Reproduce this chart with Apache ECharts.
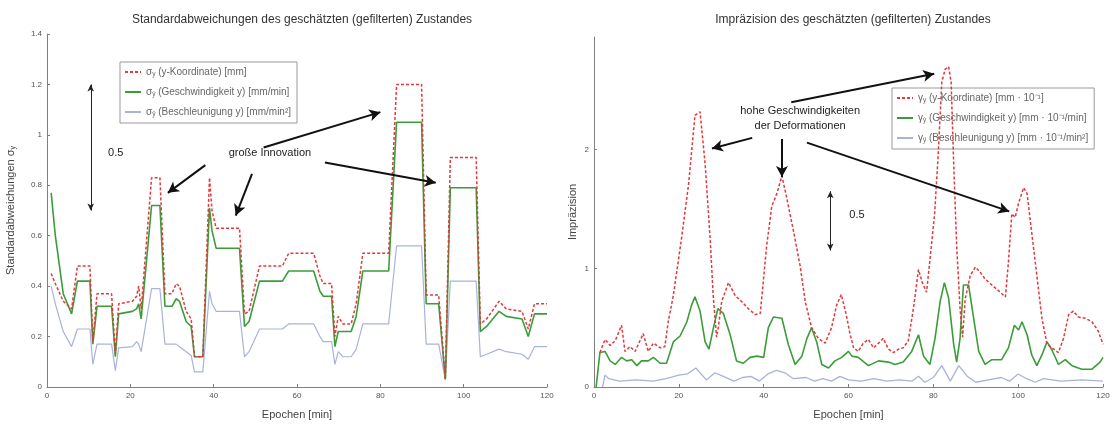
<!DOCTYPE html>
<html>
<head>
<meta charset="utf-8">
<script src="https://cdn.jsdelivr.net/npm/echarts@6/dist/echarts.min.js"></script>
<style>
html,body{margin:0;padding:0;background:#fff;}
#c{width:1114px;height:425px;}
</style>
</head>
<body>
<div id="c"></div>
<script>
// ---------- DATA ----------
// Left chart: standard deviations (epoch [min], value)
const leftEpochs = [1,2,3.9,5.9,7.3,10.3,11,12,15.5,16.4,17.2,20.5,21.5,22,22.6,25.1,27.1,28.3,30,31,31.8,33.4,34.6,35.4,37.4,39,39.6,40.6,46.2,47.4,48.5,51,56.5,58,64,65.5,66.3,68.3,69.1,69.9,71,73,74.2,75.8,82,83.9,89.9,91,94,95.6,96.8,103,104,105.5,108.5,110.2,114,115.5,117,120];
const sigmaPos   = [0.45,0.41,0.34,0.31,0.48,0.48,0.18,0.37,0.37,0.13,0.33,0.34,0.36,0.40,0.31,0.83,0.83,0.37,0.37,0.41,0.40,0.30,0.27,0.12,0.12,0.83,0.70,0.63,0.63,0.29,0.30,0.48,0.48,0.53,0.53,0.44,0.41,0.41,0.20,0.28,0.25,0.25,0.33,0.53,0.53,1.20,1.20,0.365,0.365,0.03,0.91,0.91,0.25,0.27,0.34,0.31,0.30,0.23,0.33,0.33];
const sigmaVel   = [0.77,0.60,0.37,0.29,0.42,0.42,0.17,0.32,0.32,0.12,0.29,0.30,0.31,0.33,0.27,0.72,0.72,0.32,0.32,0.35,0.34,0.26,0.24,0.12,0.12,0.71,0.62,0.55,0.55,0.24,0.26,0.42,0.42,0.46,0.46,0.38,0.36,0.36,0.16,0.22,0.22,0.22,0.28,0.46,0.46,1.05,1.05,0.33,0.33,0.03,0.79,0.79,0.22,0.24,0.30,0.28,0.27,0.20,0.29,0.29];
const sigmaAcc   = [0.40,0.33,0.22,0.16,0.23,0.23,0.09,0.17,0.17,0.065,0.155,0.16,0.18,0.17,0.14,0.39,0.39,0.17,0.17,0.17,0.16,0.14,0.125,0.06,0.06,0.38,0.33,0.30,0.30,0.12,0.14,0.23,0.23,0.25,0.25,0.20,0.18,0.18,0.09,0.14,0.12,0.12,0.15,0.25,0.25,0.56,0.56,0.17,0.17,0.03,0.42,0.42,0.12,0.13,0.15,0.14,0.13,0.11,0.16,0.16];

// Right chart: imprecision, [epoch, value]
const impPos = [[1.4,0.29],[2.6,0.40],[3.8,0.35],[5,0.39],[6.5,0.52],[7.3,0.30],[8.5,0.34],[9.7,0.30],[11.6,0.45],[12.8,0.30],[14,0.37],[15.6,0.33],[16.7,0.34],[17.5,0.55],[18.7,0.77],[20.7,1.27],[22.3,1.71],[23.8,2.29],[25,2.32],[26.2,1.88],[27.4,1.24],[28.1,0.77],[28.9,0.42],[29.3,0.50],[30.1,0.72],[31.7,0.88],[33.3,0.77],[34.8,0.72],[36.4,0.66],[38,0.61],[39.2,0.62],[40.7,1.19],[41.9,1.52],[43.1,1.63],[44.3,1.78],[45.4,1.60],[47,1.32],[48.6,1.02],[49.8,0.72],[51.3,0.50],[52.9,0.41],[54.5,0.37],[56,0.50],[57.2,0.69],[58.3,0.78],[59.4,0.62],[60.4,0.44],[61.2,0.33],[62.3,0.30],[63.5,0.37],[64.7,0.40],[65.9,0.33],[67.1,0.37],[68.2,0.41],[69.4,0.32],[70.6,0.29],[71.8,0.32],[72.9,0.33],[74.1,0.39],[75.3,0.66],[76.5,0.99],[77.4,0.88],[78.4,0.80],[79.2,1.07],[80.3,1.46],[81.1,1.93],[82,2.57],[82.8,2.68],[83.6,2.70],[84.2,2.57],[84.8,1.88],[85.5,1.19],[86.3,0.66],[86.9,0.42],[87.5,0.74],[88.7,0.94],[89.9,1.01],[91,0.97],[92.2,0.91],[93.8,0.86],[95.4,0.81],[97,0.76],[97.7,1.05],[98.5,1.46],[99.3,1.43],[100.1,1.55],[101.3,1.68],[102.1,1.63],[103.2,1.30],[104.4,0.94],[105.6,0.58],[106.8,0.36],[108,0.33],[109.5,0.29],[110.7,0.41],[111.9,0.61],[113,0.64],[114.2,0.59],[115.8,0.58],[117.4,0.55],[118.9,0.47],[120,0.36]];
const impVel = [[0.5,0],[1.4,0.29],[2.6,0.30],[3.8,0.22],[5,0.19],[6.5,0.25],[7.7,0.22],[8.9,0.23],[10.1,0.18],[11.2,0.22],[12.8,0.22],[14,0.25],[15.6,0.20],[17.1,0.20],[18.7,0.38],[20.3,0.43],[21.9,0.55],[23,0.69],[23.8,0.76],[25,0.64],[26.2,0.38],[27.1,0.32],[28.1,0.49],[29.2,0.66],[30.5,0.62],[32.1,0.44],[33.6,0.22],[35.2,0.20],[36.8,0.25],[38.4,0.26],[40,0.25],[41.1,0.50],[42.3,0.59],[44.3,0.58],[45.8,0.36],[47.4,0.19],[49,0.26],[50.2,0.41],[51.3,0.50],[52.5,0.38],[53.7,0.19],[55.3,0.16],[56.8,0.22],[58.4,0.25],[60,0.30],[60.8,0.26],[62.3,0.25],[64.7,0.18],[67.1,0.22],[69.4,0.21],[71,0.19],[72.9,0.21],[74.9,0.30],[76.5,0.44],[77.7,0.26],[79.2,0.19],[80.4,0.41],[81.6,0.72],[82.6,0.88],[83.6,0.75],[84.8,0.36],[85.5,0.21],[86.3,0.41],[87.1,0.86],[88.3,0.86],[89.5,0.58],[90.7,0.30],[92.2,0.19],[93.8,0.23],[96.1,0.23],[97.7,0.33],[99.1,0.52],[100.1,0.48],[100.9,0.55],[102.1,0.44],[103.2,0.27],[104.4,0.18],[105.6,0.27],[106.8,0.38],[108,0.31],[109.5,0.19],[111.1,0.23],[112.7,0.18],[115,0.15],[117.4,0.15],[119.3,0.21],[120,0.25]];
const impAcc = [[2,0],[2.6,0.10],[3.5,0.07],[6,0.05],[10,0.06],[14,0.05],[17,0.07],[20,0.10],[22,0.11],[24,0.16],[26.5,0.06],[28.5,0.12],[30.5,0.09],[33,0.05],[35,0.08],[37,0.09],[39,0.05],[41,0.11],[43,0.14],[45,0.12],[47,0.07],[50,0.08],[52,0.05],[54,0.07],[56,0.05],[58,0.09],[60,0.06],[63,0.05],[66,0.07],[69,0.05],[72,0.06],[75,0.05],[76.5,0.09],[78,0.04],[80,0.08],[82,0.18],[84,0.05],[86,0.18],[88,0.09],[90,0.04],[93,0.06],[96,0.08],[98,0.05],[100,0.11],[102,0.07],[104,0.04],[106,0.07],[110,0.05],[115,0.06],[120,0.05]];

const xTicks = [0,20,40,60,80,100,120];
const rightYTicks = [0,1,2];

// Annotations (data coordinates)
const leftArrows = [[[38,0.88],[29,0.77]],[[49.2,0.845],[45.3,0.68]],[[52,0.95],[80,1.09]],[[66.7,0.89],[93.3,0.81]]];
const leftScale = [[10.5,1.2],[10.5,0.7]];
const rightArrows = [[[37.3,2.10],[27.8,2.01]],[[44.3,2.09],[44.3,1.77]],[[46.5,2.40],[80.2,2.64]],[[50.2,2.06],[97.9,1.48]]];
const rightScale = [[55.7,1.65],[55.7,1.15]];

// ---------- CHART ----------
const zip = (xs, ys) => xs.map((x, i) => [x, ys[i]]);
const FONT = '"Liberation Sans", Arial, sans-serif';
const RED = '#e2393c', GREEN = '#3a9d3a', BLUE = '#aab2da';

function arrowLines(list) {
  return list.map(a => [{coord: a[0]}, {coord: a[1]}]);
}

const chart = echarts.init(document.getElementById('c'), null, {renderer: 'canvas'});

const axisCommon = {
  axisLine: {show: true, lineStyle: {color: '#808080', width: 1}},
  axisTick: {show: true, inside: true, length: 3, lineStyle: {color: '#808080'}},
  axisLabel: {fontSize: 8, color: '#555', fontFamily: FONT, margin: 5},
  splitLine: {show: false}
};

const legendRich = {
  t: {fontSize: 10, color: '#666', fontFamily: FONT},
  s: {fontSize: 6.5, color: '#666', fontFamily: FONT, padding: [5, 0, 0, 0]}
};
const legendLabels = {
  'posL': '{t|σ}{s|y}{t| (y-Koordinate) [mm]}',
  'velL': '{t|σ}{s|ẏ}{t| (Geschwindigkeit y) [mm/min]}',
  'accL': '{t|σ}{s|ÿ}{t| (Beschleunigung y) [mm/min²]}',
  'posR': '{t|γ}{s|y}{t| (y-Koordinate) [mm · 10⁻¹]}',
  'velR': '{t|γ}{s|ẏ}{t| (Geschwindigkeit y) [mm · 10⁻¹/min]}',
  'accR': '{t|γ}{s|ÿ}{t| (Beschleunigung y) [mm · 10⁻¹/min²]}'
};

const arrowStyle = {
  silent: true, animation: false,
  symbol: ['none', 'arrow'], symbolSize: [9, 11],
  label: {show: false},
  lineStyle: {color: '#111', width: 2, type: 'solid'}
};
const scaleStyle = {
  silent: true, animation: false,
  symbol: ['arrow', 'arrow'], symbolSize: [5, 7],
  label: {show: false},
  lineStyle: {color: '#222', width: 1, type: 'solid'}
};
function textPoints(items) {
  return {
    silent: true, animation: false,
    symbol: 'circle', symbolSize: 0,
    itemStyle: {color: 'rgba(0,0,0,0)'},
    data: items.map(it => ({
      coord: it.c,
      label: {show: true, position: 'inside', formatter: it.t, color: '#222', fontSize: it.fs || 11, fontFamily: FONT, align: it.align || 'center'}
    }))
  };
}

const legendBase = {
  orient: 'vertical', itemWidth: 16, itemHeight: 10, itemGap: 9,
  padding: [5, 6, 5, 4], borderColor: '#999', borderWidth: 1, backgroundColor: '#fff', selectedMode: false,
  itemStyle: {opacity: 0},
  formatter: n => legendLabels[n], textStyle: {rich: legendRich, fontSize: 10, color: '#666'}
};

chart.setOption({
  backgroundColor: '#fff',
  animation: false,
  title: [
    {text: 'Standardabweichungen des geschätzten (gefilterten) Zustandes', left: 297, top: 9, textAlign: 'center',
     textStyle: {fontSize: 12, fontWeight: 'normal', color: '#333', fontFamily: FONT}},
    {text: 'Impräzision des geschätzten (gefilterten) Zustandes', left: 848, top: 9, textAlign: 'center',
     textStyle: {fontSize: 12, fontWeight: 'normal', color: '#333', fontFamily: FONT}}
  ],
  legend: [
    Object.assign({}, legendBase, {data: ['posL', 'velL', 'accL'], left: 120, top: 62}),
    Object.assign({}, legendBase, {data: ['posR', 'velR', 'accR'], left: 892, top: 88})
  ],
  grid: [
    {left: 47, right: 567, top: 34, bottom: 33},
    {left: 594, right: 11, top: 37, bottom: 32}
  ],
  xAxis: [
    Object.assign({}, axisCommon, {gridIndex: 0, type: 'value', min: 0, max: 120, interval: 20,
      name: 'Epochen [min]', nameLocation: 'middle', nameGap: 22,
      nameTextStyle: {fontSize: 11, color: '#444', fontFamily: FONT}}),
    Object.assign({}, axisCommon, {gridIndex: 1, type: 'value', min: 0, max: 120, interval: 20,
      name: 'Epochen [min]', nameLocation: 'middle', nameGap: 22,
      nameTextStyle: {fontSize: 11, color: '#444', fontFamily: FONT}})
  ],
  yAxis: [
    Object.assign({}, axisCommon, {gridIndex: 0, type: 'value', min: 0, max: 1.4, interval: 0.2,
      name: '{n|Standardabweichungen σ}{s|y}', nameLocation: 'middle', nameGap: 30,
      nameTextStyle: {color: '#444', fontFamily: FONT, rich: {
        n: {fontSize: 11, color: '#444', fontFamily: FONT},
        s: {fontSize: 7, color: '#444', fontFamily: FONT, padding: [6, 0, 0, 0]}}}}),
    Object.assign({}, axisCommon, {gridIndex: 1, type: 'value', min: 0, max: 2.95, interval: 1,
      axisLabel: Object.assign({}, axisCommon.axisLabel, {customValues: rightYTicks}),
      axisTick: Object.assign({}, axisCommon.axisTick, {customValues: rightYTicks}),
      name: 'Impräzision', nameLocation: 'middle', nameGap: 16,
      nameTextStyle: {fontSize: 11, color: '#444', fontFamily: FONT}})
  ],
  series: [
    {name: 'accL', type: 'line', xAxisIndex: 0, yAxisIndex: 0, data: zip(leftEpochs, sigmaAcc),
     showSymbol: false, symbol: 'none', lineStyle: {color: BLUE, width: 1.2}, itemStyle: {color: BLUE}, z: 2},
    {name: 'velL', type: 'line', xAxisIndex: 0, yAxisIndex: 0, data: zip(leftEpochs, sigmaVel),
     showSymbol: false, symbol: 'none', lineStyle: {color: GREEN, width: 1.6}, itemStyle: {color: GREEN}, z: 3},
    {name: 'posL', type: 'line', xAxisIndex: 0, yAxisIndex: 0, data: zip(leftEpochs, sigmaPos),
     showSymbol: false, symbol: 'none', lineStyle: {color: RED, width: 1.5, type: [3, 2]}, itemStyle: {color: RED}, z: 4,
     markLine: Object.assign({}, arrowStyle, {data: arrowLines(leftArrows)}),
     markPoint: textPoints([{c: [53.5, 0.93], t: 'große Innovation'}, {c: [16.5, 0.93], t: '0.5'}])},
    {name: 'scaleL', type: 'line', xAxisIndex: 0, yAxisIndex: 0, data: [],
     markLine: Object.assign({}, scaleStyle, {data: [[{coord: leftScale[0]}, {coord: leftScale[1]}]]})},

    {name: 'accR', type: 'line', xAxisIndex: 1, yAxisIndex: 1, data: impAcc,
     showSymbol: false, symbol: 'none', lineStyle: {color: BLUE, width: 1.3}, itemStyle: {color: BLUE}, z: 2},
    {name: 'velR', type: 'line', xAxisIndex: 1, yAxisIndex: 1, data: impVel,
     showSymbol: false, symbol: 'none', lineStyle: {color: GREEN, width: 1.6}, itemStyle: {color: GREEN}, z: 3},
    {name: 'posR', type: 'line', xAxisIndex: 1, yAxisIndex: 1, data: impPos,
     showSymbol: false, symbol: 'none', lineStyle: {color: RED, width: 1.5, type: [3, 2]}, itemStyle: {color: RED}, z: 4,
     markLine: Object.assign({}, arrowStyle, {data: arrowLines(rightArrows)}),
     markPoint: textPoints([{c: [48.6, 2.33], t: 'hohe Geschwindigkeiten'}, {c: [48.6, 2.20], t: 'der Deformationen'},
                            {c: [62, 1.45], t: '0.5'}])},
    {name: 'scaleR', type: 'line', xAxisIndex: 1, yAxisIndex: 1, data: [],
     markLine: Object.assign({}, scaleStyle, {data: [[{coord: rightScale[0]}, {coord: rightScale[1]}]]})}
  ]
});
</script>
</body>
</html>
